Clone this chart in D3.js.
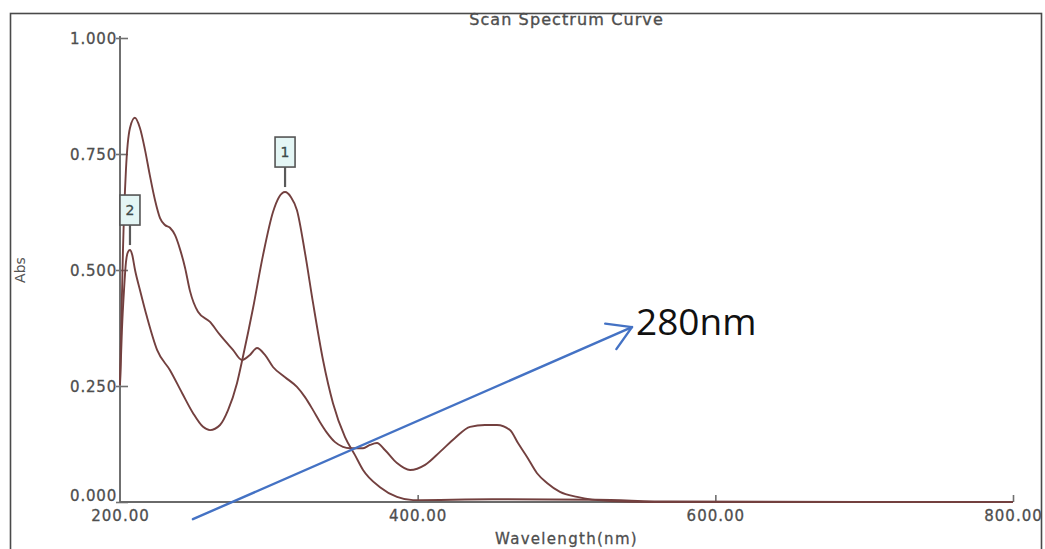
<!DOCTYPE html>
<html>
<head>
<meta charset="utf-8">
<script src="https://cdn.jsdelivr.net/npm/d3@7"></script>
<style>
  html, body { margin: 0; padding: 0; background: #fff; }
  svg { display: block; }
</style>
</head>
<body>
<svg id="chart" width="1045" height="549"></svg>
<script>
// Absorbance scan, sample A (strong band near 210 nm, visible band near 450 nm)
const sampleAWavelength = [200, 201, 202, 204, 206.7, 210, 213.4, 216.8, 220, 223.5, 226.9, 230.2, 233.6, 237, 240.3, 243.7,
  247, 252.4, 260.5, 267.2, 275.9, 282, 287.3, 292, 297.4, 302.8, 310.9, 318.9, 324.3, 329.7, 334.4, 339.1, 344.5,
  349.8, 354.5, 363.3, 368, 372.7, 378, 386.1, 394.9, 405, 415, 425.1, 435.2, 445.2, 453.3, 462, 467.4, 473.5, 480.2,
  486.9, 495.6, 507.1, 529.2, 556, 800];
const sampleAAbs = [0.252, 0.400, 0.543, 0.716, 0.806, 0.828, 0.806, 0.759, 0.705, 0.651, 0.612, 0.597, 0.591, 0.575, 0.545, 0.505,
  0.455, 0.410, 0.388, 0.360, 0.328, 0.306, 0.317, 0.332, 0.317, 0.291, 0.269, 0.248, 0.226, 0.198, 0.172, 0.149, 0.129,
  0.119, 0.116, 0.116, 0.123, 0.127, 0.112, 0.084, 0.069, 0.080, 0.108, 0.138, 0.162, 0.166, 0.166, 0.155, 0.127, 0.097, 0.062,
  0.041, 0.022, 0.011, 0.002, 0, 0];

// Absorbance scan, sample B (picked peaks 1 and 2)
const sampleBWavelength = [200, 201.3, 202.7, 204, 205.4, 206.7, 208.1, 210.1, 213.4, 218.1, 224.9, 233.6, 241.7, 249, 255.8,
  260.5, 267.2, 272.6, 278.6, 282.6, 289.4, 296.1, 302.8, 306.8, 310.9, 314.9, 318.9, 324.3, 329.7, 336.4, 343.1, 351.2,
  357.9, 363.3, 374.7, 386.1, 396.9, 450, 520, 570, 800];
const sampleBAbs = [0.252, 0.371, 0.457, 0.517, 0.539, 0.543, 0.534, 0.500, 0.457, 0.399, 0.328, 0.284, 0.235, 0.192, 0.162,
  0.155, 0.166, 0.198, 0.256, 0.313, 0.418, 0.532, 0.625, 0.657, 0.668, 0.657, 0.629, 0.537, 0.429, 0.306, 0.213, 0.140,
  0.101, 0.069, 0.032, 0.011, 0.004, 0.006, 0.005, 0.001, 0];

// Peak picks on sample B
const peakLabels = ["1", "2"];
const peakWavelength = [310.9, 206.7];
const peakAbs = [0.668, 0.543];

// Axis ticks
const xTicks = [200, 400, 600, 800];
const yTicks = [0, 0.25, 0.5, 0.75, 1];

// Call-out arrow (wavelength, absorbance) and its text
const calloutFrom = [249, -0.037];
const calloutTo = [544, 0.377];
const calloutText = "280nm";

const svg = d3.select("#chart");

const x = d3.scaleLinear().domain([200, 800]).range([120, 1013]);
const y = d3.scaleLinear().domain([0, 1]).range([502, 38]);

const labelFont = "'DejaVu Sans', Verdana, sans-serif";
const labelColor = "#4e4e4e";

// outer frame
svg.append("rect")
  .attr("x", 10.5).attr("y", 13.5)
  .attr("width", 1031).attr("height", 600)
  .attr("fill", "none").attr("stroke", "#4a4a4a").attr("stroke-width", 1.6);

// title
svg.append("text")
  .attr("x", (x.range()[0] + x.range()[1]) / 2).attr("y", 25)
  .attr("text-anchor", "middle")
  .attr("font-family", labelFont).attr("font-size", 16)
  .attr("letter-spacing", 1.1)
  .attr("fill", "#4e4e4e").attr("stroke", "#4e4e4e").attr("stroke-width", 0.35)
  .text("Scan Spectrum Curve");

// y axis
const yAxis = d3.axisLeft(y).tickValues(yTicks).tickFormat(d3.format(".3f")).tickSizeInner(-8).tickSizeOuter(0);
const gy = svg.append("g").attr("transform", `translate(${x(200)},0)`).call(yAxis);
gy.select(".domain").remove();
gy.selectAll(".tick line").attr("x1", -4).attr("x2", 8).attr("stroke", "#707070").attr("stroke-width", 1.6);
gy.selectAll(".tick text")
  .attr("x", -3).attr("dy", d => d === 0 ? "-0.1em" : "0.35em")
  .attr("font-family", labelFont).attr("font-size", 15)
  .attr("letter-spacing", 0.8)
  .attr("fill", labelColor).attr("stroke", labelColor).attr("stroke-width", 0.3);

// x axis
const xAxis = d3.axisBottom(x).tickValues(xTicks).tickFormat(d3.format(".2f")).tickSizeInner(-7).tickSizeOuter(0);
const gx = svg.append("g").attr("transform", `translate(0,${y(0)})`).call(xAxis);
gx.select(".domain").remove();
gx.selectAll(".tick line").attr("stroke", "#707070").attr("stroke-width", 1.6);
gx.selectAll(".tick").filter(d => d === 200).select("line").remove();
gx.selectAll(".tick text")
  .attr("y", 14).attr("dy", "0.35em")
  .attr("font-family", labelFont).attr("font-size", 15)
  .attr("letter-spacing", 1)
  .attr("fill", labelColor).attr("stroke", labelColor).attr("stroke-width", 0.3);

// axis lines
svg.append("line")
  .attr("x1", x(200)).attr("x2", x(200)).attr("y1", y(1) - 2).attr("y2", y(0) + 1)
  .attr("stroke", "#707070").attr("stroke-width", 2);
svg.append("line")
  .attr("x1", x(200)).attr("x2", x(800)).attr("y1", y(0)).attr("y2", y(0))
  .attr("stroke", "#6a6a6a").attr("stroke-width", 2);

// axis titles
svg.append("text")
  .attr("x", (x.range()[0] + x.range()[1]) / 2).attr("y", 544)
  .attr("text-anchor", "middle")
  .attr("font-family", labelFont).attr("font-size", 15)
  .attr("letter-spacing", 1.3)
  .attr("fill", "#4e4e4e").attr("stroke", "#4e4e4e").attr("stroke-width", 0.3)
  .text("Wavelength(nm)");
svg.append("text")
  .attr("transform", "translate(25,270) rotate(-90)")
  .attr("text-anchor", "middle")
  .attr("font-family", labelFont).attr("font-size", 14)
  .attr("fill", "#555")
  .text("Abs");

// spectra
const line = d3.line()
  .x(d => x(d[0])).y(d => y(d[1]))
  .curve(d3.curveMonotoneX);

const series = [
  d3.zip(sampleAWavelength, sampleAAbs),
  d3.zip(sampleBWavelength, sampleBAbs)
];
svg.append("g").selectAll("path")
  .data(series)
  .join("path")
  .attr("d", line)
  .attr("fill", "none")
  .attr("stroke", "#73403f")
  .attr("stroke-width", 1.9)
  .attr("stroke-linejoin", "round");

// peak pick markers
const peaks = peakLabels.map((label, i) => ({ label, wl: peakWavelength[i], abs: peakAbs[i] }));
const pk = svg.append("g").selectAll("g")
  .data(peaks)
  .join("g")
  .attr("transform", d => `translate(${x(d.wl)},${y(d.abs)})`);
pk.append("line")
  .attr("x1", 0).attr("x2", 0).attr("y1", -5).attr("y2", -25)
  .attr("stroke", "#5a5a5a").attr("stroke-width", 2.2);
pk.append("rect")
  .attr("x", -10).attr("y", -55).attr("width", 20).attr("height", 30)
  .attr("fill", "#e4f6f5").attr("stroke", "#555").attr("stroke-width", 1.6);
pk.append("text")
  .attr("x", 0).attr("y", -40).attr("dy", "0.35em")
  .attr("text-anchor", "middle")
  .attr("font-family", labelFont).attr("font-size", 14)
  .attr("fill", "#3d4a4a").attr("stroke", "#3d4a4a").attr("stroke-width", 0.3)
  .text(d => d.label);

// call-out arrow
const ax0 = x(calloutFrom[0]), ay0 = y(calloutFrom[1]);
const ax1 = x(calloutTo[0]), ay1 = y(calloutTo[1]);
const back = Math.atan2(ay0 - ay1, ax0 - ax1);
const armLen = 27, spread = 31 * Math.PI / 180;
const arrow = svg.append("g")
  .attr("fill", "none").attr("stroke", "#4472c4").attr("stroke-width", 2.4)
  .attr("stroke-linecap", "round").attr("stroke-linejoin", "round");
arrow.append("line")
  .attr("x1", ax0).attr("y1", ay0).attr("x2", ax1).attr("y2", ay1);
arrow.append("path")
  .attr("d", d3.line()([
    [ax1 + armLen * Math.cos(back - spread), ay1 + armLen * Math.sin(back - spread)],
    [ax1, ay1],
    [ax1 + armLen * Math.cos(back + spread), ay1 + armLen * Math.sin(back + spread)]
  ]));
svg.append("text")
  .attr("x", ax1 + 4).attr("y", ay1 + 8)
  .attr("font-family", "'Open Sans', 'Liberation Sans', sans-serif")
  .attr("font-size", 37)
  .attr("fill", "#111")
  .text(calloutText);
</script>
</body>
</html>
